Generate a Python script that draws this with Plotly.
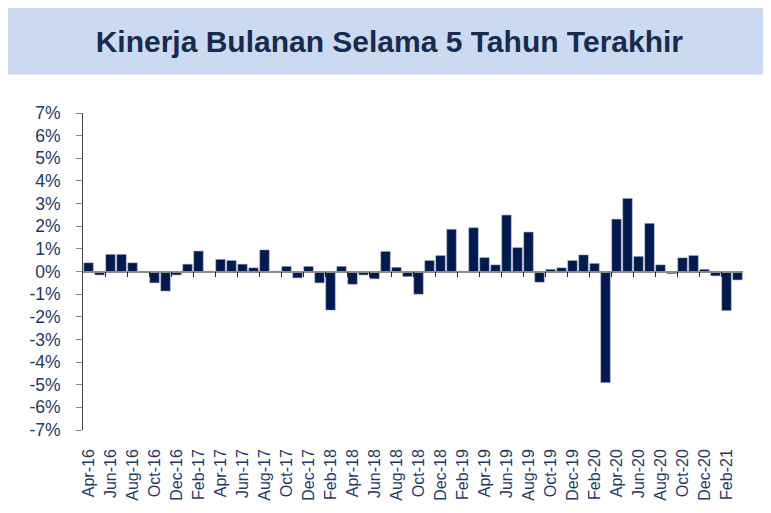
import plotly.graph_objects as go

months = [
    "Apr-16", "May-16", "Jun-16", "Jul-16", "Aug-16", "Sep-16", "Oct-16", "Nov-16", "Dec-16",
    "Jan-17", "Feb-17", "Mar-17", "Apr-17", "May-17", "Jun-17", "Jul-17", "Aug-17", "Sep-17",
    "Oct-17", "Nov-17", "Dec-17", "Jan-18", "Feb-18", "Mar-18", "Apr-18", "May-18", "Jun-18",
    "Jul-18", "Aug-18", "Sep-18", "Oct-18", "Nov-18", "Dec-18", "Jan-19", "Feb-19", "Mar-19",
    "Apr-19", "May-19", "Jun-19", "Jul-19", "Aug-19", "Sep-19", "Oct-19", "Nov-19", "Dec-19",
    "Jan-20", "Feb-20", "Mar-20", "Apr-20", "May-20", "Jun-20", "Jul-20", "Aug-20", "Sep-20",
    "Oct-20", "Nov-20", "Dec-20", "Jan-21", "Feb-21", "Mar-21",
]

returns_pct = [
    0.38, -0.15, 0.75, 0.75, 0.38, 0.01, -0.50, -0.86, -0.15,
    0.32, 0.90, 0.01, 0.53, 0.48, 0.32, 0.16, 0.95, 0.01,
    0.22, -0.28, 0.22, -0.50, -1.70, 0.22, -0.56, -0.15, -0.32,
    0.88, 0.18, -0.22, -1.00, 0.48, 0.70, 1.86, 0.01, 1.93,
    0.61, 0.29, 2.49, 1.05, 1.74, -0.47, 0.09, 0.16, 0.48,
    0.73, 0.35, -4.90, 2.31, 3.22, 0.66, 2.12, 0.29, -0.09,
    0.60, 0.70, 0.09, -0.19, -1.72, -0.37,
]

y_ticks = list(range(-7, 8))
y_tick_labels = [f"{v}%" for v in y_ticks]

title_text = "Kinerja Bulanan Selama 5 Tahun Terakhir"

n = len(months)
label_color = "#1F3864"
font_family = "Liberation Sans, Arial, sans-serif"

W, H = 763, 505
ML, MR, MT, MB = 75, 28, 105, 81
plot_w = W - ML - MR
plot_h = H - MT - MB

fig = go.Figure()
fig.add_trace(go.Bar(
    x=months, y=returns_pct,
    marker=dict(color="#001A4F", line=dict(color="#7d86a3", width=0.5)),
    xaxis="x", yaxis="y", showlegend=False, hoverinfo="x+y",
))
# invisible helper trace on the zero-line axis
fig.add_trace(go.Scatter(
    x=list(range(n)), y=returns_pct, mode="markers",
    marker=dict(opacity=0), xaxis="x2", yaxis="y",
    showlegend=False, hoverinfo="skip",
))

fig.update_layout(
    width=W, height=H, autosize=False,
    margin=dict(l=ML, r=MR, t=MT, b=MB),
    paper_bgcolor="white", plot_bgcolor="white",
    font=dict(family=font_family, color=label_color),
    bargap=0.15,
    xaxis=dict(
        type="category", range=[-0.5, n - 0.5],
        tickmode="array", tickvals=months[::2], ticktext=months[::2],
        tickangle=-90, ticks="", showline=False, showgrid=False, zeroline=False,
        tickfont=dict(size=16, color=label_color, family=font_family),
        ticklabelstandoff=15,
    ),
    xaxis2=dict(
        overlaying="x", anchor="free", position=0.5,
        range=[-0.5, n - 0.5], showgrid=False, zeroline=False,
        showline=True, linecolor="#8c8c8c", linewidth=1.5,
        tickmode="array", tickvals=[i - 0.5 for i in range(2, n, 2)],
        ticks="outside", ticklen=5, tickcolor="#222222", tickwidth=1,
        showticklabels=False,
    ),
    yaxis=dict(
        range=[y_ticks[0], y_ticks[-1]],
        tickmode="array", tickvals=y_ticks, ticktext=y_tick_labels,
        showgrid=False, zeroline=False,
        showline=True, linecolor="#444444", linewidth=1,
        ticks="outside", ticklen=6, tickcolor="#888888",
        tickfont=dict(size=17.5, color=label_color, family=font_family),
        ticklabelstandoff=12,
    ),
    annotations=[dict(
        text="<b>" + title_text + "</b>",
        xref="paper", yref="paper",
        x=(W / 2 - ML) / plot_w, y=1 + (MT - 33) / plot_h,
        xanchor="center", yanchor="middle",
        width=W, height=66, bgcolor="#CCDAF1", borderpad=0,
        showarrow=False,
        font=dict(size=30, color="#172B4D", family=font_family),
    )],
)

fig.write_html("out.html")
